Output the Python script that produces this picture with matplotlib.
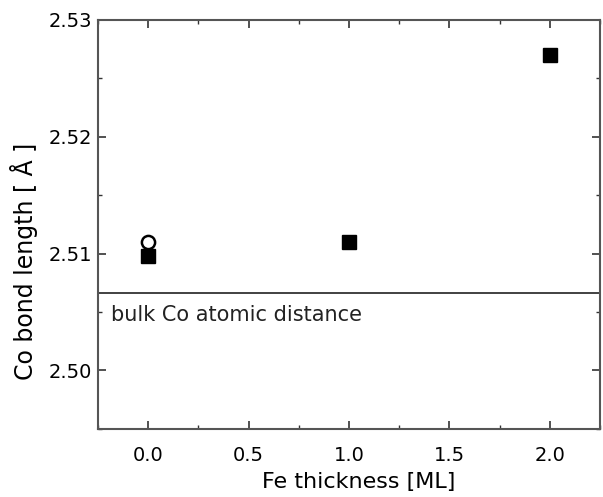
import numpy as np
import matplotlib.pyplot as plt

# Co bond length vs Fe thickness
fe_thickness = [0.0, 1.0, 2.0]
bond_length = [2.5098, 2.511, 2.527]
open_x = [0.0]
open_y = [2.511]
bulk_co = 2.5066

fig = plt.figure(figsize=(6.03, 4.97), dpi=100)
ax = fig.add_axes([0.1625, 0.137, 0.8325, 0.823])

ax.axhline(bulk_co, color='#333333', linewidth=1.3, zorder=1)
ax.text(-0.185, bulk_co - 0.0010, 'bulk Co atomic distance', fontsize=15,
        va='top', ha='left', color='#222222')

ax.plot(fe_thickness, bond_length, 's', color='black', markersize=9.5, zorder=3)
ax.plot(open_x, open_y, 'o', markerfacecolor='white', markeredgecolor='black',
        markeredgewidth=1.8, markersize=9.5, zorder=4)

ax.set_xlim(-0.25, 2.25)
ax.set_ylim(2.495, 2.53)

ax.set_xticks([0.0, 0.5, 1.0, 1.5, 2.0])
ax.set_xticklabels(['0.0', '0.5', '1.0', '1.5', '2.0'])
ax.set_xticks(np.arange(-0.25, 2.3, 0.25), minor=True)
ax.set_yticks([2.50, 2.51, 2.52, 2.53])
ax.set_yticklabels(['2.50', '2.51', '2.52', '2.53'])
ax.set_yticks(np.arange(2.495, 2.531, 0.005), minor=True)

ax.tick_params(which='both', direction='in', top=True, right=True,
               labelsize=14, color='#333333')
ax.tick_params(axis='x', pad=12)
ax.tick_params(axis='y', pad=4)
ax.tick_params(which='major', length=6, width=1.2)
ax.tick_params(which='minor', length=3, width=1.0)

for s in ax.spines.values():
    s.set_linewidth(1.5)
    s.set_color('#555555')

ax.set_xlabel('Fe thickness [ML]', fontsize=16, labelpad=6)
ax.xaxis.set_label_coords(0.52, -0.105)
ax.set_ylabel('Co bond length [ Å ]', fontsize=17)
ax.yaxis.set_label_coords(-0.12, 0.41)

plt.savefig('out.png', dpi=100)
